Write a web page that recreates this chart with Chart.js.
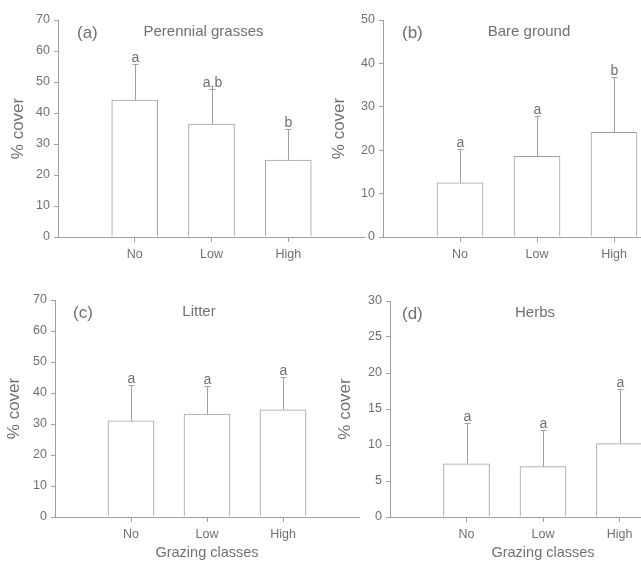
<!DOCTYPE html>
<html>
<head>
<meta charset="utf-8">
<script src="https://cdn.jsdelivr.net/npm/chart.js@4.4.1/dist/chart.umd.min.js"></script>
<style>
  html, body { margin: 0; padding: 0; background: #fff; overflow: hidden; }
  #wrap { position: relative; width: 641px; height: 565px; overflow: hidden; }
  canvas { position: absolute; }
</style>
</head>
<body>
<div id="wrap">
  <canvas id="panelA"></canvas>
  <canvas id="panelB"></canvas>
  <canvas id="panelC"></canvas>
  <canvas id="panelD"></canvas>
</div>
<script>
// grazing classes
const categories = ['No', 'Low', 'High'];

// (a) perennial grasses
const grassMean = [44.2, 36.4, 24.8];
const grassErr = [11.5, 11.2, 9.9];
const grassLetters = ['a', 'a,b', 'b'];

// (b) bare ground
const bareMean = [12.5, 18.6, 24.1];
const bareErr = [7.7, 9.2, 12.7];
const bareLetters = ['a', 'a', 'b'];

// (c) litter
const litterMean = [31.0, 33.2, 34.6];
const litterErr = [11.6, 9.1, 10.7];
const litterLetters = ['a', 'a', 'a'];

// (d) herbs
const herbMean = [7.4, 7.0, 10.2];
const herbErr = [5.7, 5.1, 7.6];
const herbLetters = ['a', 'a', 'a'];

const yTicksA = { max: 70, step: 10 };
const yTicksB = { max: 50, step: 10 };
const yTicksC = { max: 70, step: 10 };
const yTicksD = { max: 30, step: 5 };

const FONT = "'Liberation Sans', Arial, sans-serif";
const axisColor = '#a0a0a0';
const textColor = '#707070';

// draws error bars, significance letters, panel tag and title
const extras = {
    id: 'extras',
    afterDatasetsDraw(chart, args, opts) {
        const ctx = chart.ctx;
        const x = chart.scales.x, y = chart.scales.y;
        const area = chart.chartArea;
        ctx.save();
        ctx.strokeStyle = axisColor;
        ctx.lineWidth = 1;
        opts.mean.forEach((m, i) => {
            const px = Math.round(x.getPixelForValue(i + 1)) + 0.5;
            const y0 = y.getPixelForValue(m);
            const y1 = Math.round(y.getPixelForValue(m + opts.err[i])) + 0.5;
            ctx.beginPath();
            ctx.moveTo(px, y0);
            ctx.lineTo(px, y1);
            ctx.moveTo(px - 3, y1);
            ctx.lineTo(px + 3, y1);
            ctx.stroke();
            ctx.fillStyle = textColor;
            ctx.font = '14px ' + FONT;
            ctx.textAlign = 'center';
            ctx.textBaseline = 'alphabetic';
            ctx.fillText(opts.letters[i], px, y1 - 3);
        });
        ctx.fillStyle = textColor;
        ctx.textBaseline = 'middle';
        ctx.textAlign = 'left';
        ctx.font = '17px ' + FONT;
        ctx.fillText(opts.tag, area.left + opts.tagDx, area.top + 13);
        ctx.textAlign = 'center';
        ctx.font = '15px ' + FONT;
        ctx.fillText(opts.title, (area.left + area.right) / 2 - 8, area.top + 12);
        ctx.restore();
    }
};

function drawPanel(id, box, mean, err, letters, yt, tag, title, xTitle) {
    const canvas = document.getElementById(id);
    canvas.width = box.w;
    canvas.height = box.h;
    canvas.style.left = box.left + 'px';
    canvas.style.top = box.top + 'px';

    new Chart(canvas.getContext('2d'), {
        type: 'bar',
        data: {
            datasets: [{
                data: categories.map((c, i) => ({ x: i + 1, y: mean[i] })),
                backgroundColor: '#ffffff',
                borderColor: axisColor,
                borderWidth: 1,
                barThickness: 46
            }]
        },
        options: {
            responsive: false,
            animation: false,
            devicePixelRatio: 1,
            layout: { padding: { left: 0, top: box.padTop, right: box.padRight, bottom: 0 } },
            plugins: {
                legend: { display: false },
                tooltip: { enabled: false },
                extras: { mean: mean, err: err, letters: letters, tag: tag, tagDx: box.tagDx, title: title }
            },
            scales: {
                x: {
                    type: 'linear',
                    min: 0,
                    max: 4,
                    offset: false,
                    afterBuildTicks: s => { s.ticks = [1, 2, 3].map(v => ({ value: v })); },
                    afterFit: s => { s.height = box.xh; },
                    grid: { offset: false, drawOnChartArea: false, tickLength: 5, color: axisColor },
                    border: { color: axisColor },
                    ticks: {
                        autoSkip: false,
                        maxRotation: 0,
                        padding: 5,
                        color: textColor,
                        font: { family: FONT, size: 12.5 },
                        callback: v => categories[v - 1]
                    },
                    title: {
                        display: !!xTitle,
                        text: xTitle || '',
                        color: textColor,
                        font: { family: FONT, size: 14.5 },
                        padding: { top: 0, bottom: 3 }
                    }
                },
                y: {
                    min: 0,
                    max: yt.max,
                    afterFit: s => { s.width = box.yw; },
                    grid: { drawOnChartArea: false, tickLength: 4, color: axisColor },
                    border: { color: axisColor },
                    ticks: {
                        stepSize: yt.step,
                        padding: 4,
                        color: textColor,
                        font: { family: FONT, size: 12.5 }
                    },
                    title: {
                        display: true,
                        text: '% cover',
                        color: textColor,
                        font: { family: FONT, size: 17 },
                        padding: { top: box.yTitlePad, bottom: 0 }
                    }
                }
            }
        },
        plugins: [extras]
    });
}

drawPanel('panelA', { left: 0, top: 0, w: 370, h: 280, yw: 58, xh: 43, padTop: 20, padRight: 5, yTitlePad: 8, tagDx: 19 },
    grassMean, grassErr, grassLetters, yTicksA, '(a)', 'Perennial grasses', null);
drawPanel('panelB', { left: 325, top: 0, w: 380, h: 280, yw: 58, xh: 43, padTop: 20, padRight: 14, yTitlePad: 4, tagDx: 19 },
    bareMean, bareErr, bareLetters, yTicksB, '(b)', 'Bare ground', null);
drawPanel('panelC', { left: 0, top: 280, w: 370, h: 285, yw: 55, xh: 48, padTop: 20, padRight: 11, yTitlePad: 4, tagDx: 18 },
    litterMean, litterErr, litterLetters, yTicksC, '(c)', 'Litter', 'Grazing classes');
drawPanel('panelD', { left: 330, top: 280, w: 380, h: 285, yw: 60, xh: 48, padTop: 21, padRight: 14, yTitlePad: 5, tagDx: 12 },
    herbMean, herbErr, herbLetters, yTicksD, '(d)', 'Herbs', 'Grazing classes');
</script>
</body>
</html>
